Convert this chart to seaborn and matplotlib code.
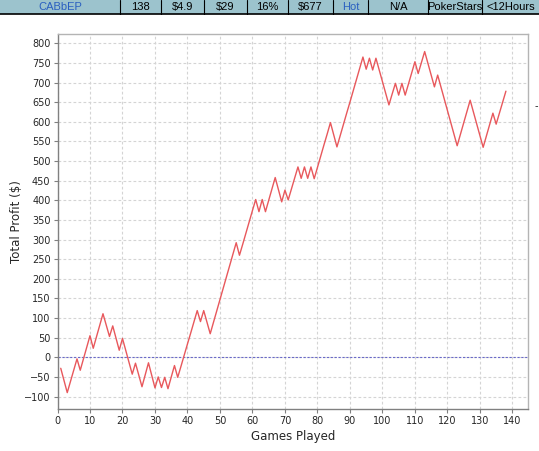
import numpy as np
import pandas as pd
import matplotlib
matplotlib.use('Agg')
import matplotlib.pyplot as plt
import seaborn as sns

# header row of the stats table
header_cells = ['CABbEP', '138', '$4.9', '$29', '16%', '$677', 'Hot', 'N/A', 'PokerStars', '<12Hours']
header_edges = [0, 120, 161, 204, 247, 288, 333, 368, 428, 482, 539]
header_blue = ['CABbEP', 'Hot']

# cumulative profit after each game
games = list(range(1, 139))
profit = [
    -28, -59, -90, -61, -33, -4, -33, -4, 25, 55,
    23, 52, 81, 111, 82, 53, 80, 49, 18, 48,
    18, -13, -43, -15, -45, -75, -45, -14, -46, -78,
    -50, -77, -51, -80, -50, -21, -51, -23, 6, 34,
    62, 91, 119, 91, 119, 90, 60, 89, 118, 147,
    176, 205, 234, 263, 292, 260, 288, 317, 345, 374,
    402, 371, 402, 371, 400, 429, 458, 427, 396, 426,
    401, 429, 457, 485, 456, 485, 456, 485, 455, 484,
    512, 541, 569, 598, 567, 536, 565, 593, 622, 650,
    679, 708, 736, 765, 734, 762, 732, 762, 732, 702,
    673, 643, 671, 698, 668, 698, 668, 696, 725, 753,
    723, 751, 779, 749, 719, 689, 719, 689, 659, 629,
    599, 569, 539, 568, 597, 626, 655, 625, 595, 565,
    535, 564, 593, 622, 594, 622, 650, 678,
]

x_ticks = list(range(0, 141, 10))
y_ticks = list(range(-100, 801, 50))

sns.set_style('white')
plt.rcParams['font.family'] = ['DejaVu Sans']

W, H = 539, 451
fig = plt.figure(figsize=(W / 100, H / 100), dpi=100)

# main chart
left, right, top, bottom = 57.5, 528, 34, 409.3
ax = fig.add_axes([left / W, 1 - bottom / H, (right - left) / W, (bottom - top) / H])
df = pd.DataFrame({'Games Played': games, 'Total Profit ($)': profit})
sns.lineplot(data=df, x='Games Played', y='Total Profit ($)', ax=ax,
             color='#e8585c', lw=1.0, zorder=3)
ax.axhline(0, color='#6a6ac8', lw=0.8, ls=(0, (2, 1.5)), zorder=2)

ax.set_xlim(0, 144.8)
ax.set_ylim(-132.5, 823.7)
ax.set_xticks(x_ticks)
ax.set_yticks(y_ticks)
ax.grid(True, color='#d4d4d4', lw=0.8, ls=(0, (2.5, 2)))
ax.tick_params(axis='both', labelsize=7, length=3, width=0.8, color='#808080',
               pad=2, direction='out')
ax.tick_params(axis='y', left=True)
ax.tick_params(axis='x', bottom=True)
for s in ['left', 'bottom']:
    ax.spines[s].set_color('#808080')
    ax.spines[s].set_linewidth(1.0)
for s in ['top', 'right']:
    ax.spines[s].set_color('#b4b4b4')
    ax.spines[s].set_linewidth(1.0)
ax.set_xlabel('Games Played', fontsize=8.5, labelpad=3)
ax.set_ylabel('Total Profit ($)', fontsize=8.5, labelpad=1)
fig.text(536.5 / W, 1 - 106 / H, '-', fontsize=7, ha='center', va='center')

# header table
hax = fig.add_axes([0, 1 - 15 / H, 1, 15 / H])
hax.set_xlim(0, W)
hax.set_ylim(15, 0)
hax.axis('off')
hax.axhspan(0, 14, color='#9cc3cd', lw=0)
hax.axhline(14.3, color='black', lw=1.2)
for e in header_edges[1:-1]:
    hax.axvline(e, color='black', lw=0.8)
for i, txt in enumerate(header_cells):
    cx = (header_edges[i] + header_edges[i + 1]) / 2
    col = '#2a5fc0' if txt in header_blue else 'black'
    hax.text(cx, 7.2, txt, ha='center', va='center', fontsize=8,
             color=col, family='Liberation Sans')

fig.savefig('out.png', dpi=100)
